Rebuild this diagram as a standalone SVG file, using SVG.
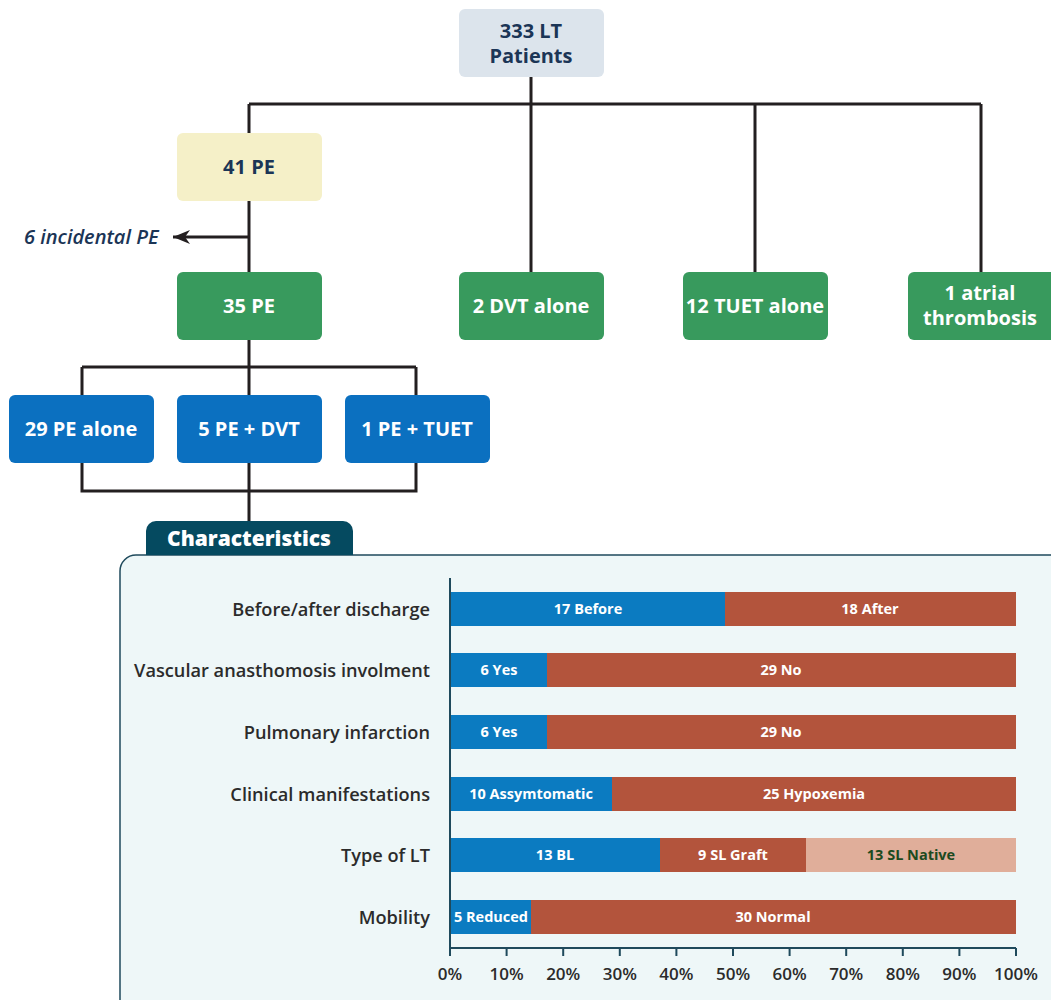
<svg xmlns="http://www.w3.org/2000/svg" width="1051" height="1000" viewBox="0 0 1051 1000">
<style>
.node text{font-family:"Open Sans","Liberation Sans",sans-serif;font-weight:700;font-size:20px;text-anchor:middle;fill:#fff}
.dark text{fill:#1b3556}
.conn{stroke:#231f20;stroke-width:3;fill:none}
.lbl{font-family:"Open Sans","Liberation Sans",sans-serif;font-size:18.2px;fill:#2b2b2b;text-anchor:end;font-weight:600}
.bt{font-family:"Open Sans","Liberation Sans",sans-serif;font-size:14.5px;font-weight:700;fill:#fff;text-anchor:middle}
.tk{font-family:"Open Sans","Liberation Sans",sans-serif;font-size:17px;fill:#2b2b2b;text-anchor:middle;font-weight:600}
.blue{fill:#0b7bc1}.red{fill:#b3543c}.pink{fill:#e0ae9a}
</style>
<defs>
<marker id="ah" markerWidth="18" markerHeight="14" refX="17" refY="7" orient="auto" markerUnits="userSpaceOnUse" viewBox="0 0 18 14">
<path d="M17,7 L0,0 L5,7 L0,14 Z" fill="#231f20"/>
</marker>
</defs>
<rect width="1051" height="1000" fill="#fff"/>
<g id="connectors">
<path class="conn" d="M531,77 V104 M249,104 H981 M249,104 V133 M531,104 V272 M755,104 V272 M981,104 V272"/>
<path class="conn" d="M249,201 V272"/>
<path class="conn" d="M249,237 H173" marker-end="url(#ah)"/>
<path class="conn" d="M249,340 V395 M82,367 H416 M82,367 V395 M416,367 V395"/>
<path class="conn" d="M82,463 V491 H416 V463 M249,463 V521"/>
</g>
<text x="24" y="244" font-family="'Open Sans','Liberation Sans',sans-serif" font-style="italic" font-weight="600" font-size="20" fill="#1b3556">6 incidental PE</text>
<g id="n-top" class="node dark"><rect x="459" y="9" width="145" height="68" rx="6" fill="#dce4ec"/><text x="531" y="38">333 LT</text><text x="531" y="63">Patients</text></g>
<g id="n-41" class="node dark"><rect x="177" y="133" width="145" height="68" rx="6" fill="#f5f0c8"/><text x="249" y="174">41 PE</text></g>
<g id="n-35" class="node"><rect x="177" y="272" width="145" height="68" rx="6" fill="#389a5d"/><text x="249" y="313">35 PE</text></g>
<g id="n-dvt" class="node"><rect x="459" y="272" width="145" height="68" rx="6" fill="#389a5d"/><text x="531" y="313">2 DVT alone</text></g>
<g id="n-tuet" class="node"><rect x="683" y="272" width="145" height="68" rx="6" fill="#389a5d"/><text x="755" y="313">12 TUET alone</text></g>
<g id="n-atrial" class="node"><rect x="908" y="272" width="148" height="68" rx="6" fill="#389a5d"/><text x="980" y="300">1 atrial</text><text x="980" y="325">thrombosis</text></g>
<g id="n-29" class="node"><rect x="9" y="395" width="145" height="68" rx="6" fill="#0b70c0"/><text x="81" y="436">29 PE alone</text></g>
<g id="n-5" class="node"><rect x="177" y="395" width="145" height="68" rx="6" fill="#0b70c0"/><text x="249" y="436">5 PE + DVT</text></g>
<g id="n-1" class="node"><rect x="345" y="395" width="145" height="68" rx="6" fill="#0b70c0"/><text x="417" y="436">1 PE + TUET</text></g>
<g id="panel">
<rect x="120" y="555" width="960" height="470" rx="16" fill="#eef7f8" stroke="#1f4a5c" stroke-width="1.5"/>
<path d="M146,555 V531 a10,10 0 0 1 10,-10 H343 a10,10 0 0 1 10,10 V555 Z" fill="#054a60"/>
<text x="249" y="546" font-family="'Open Sans','Liberation Sans',sans-serif" font-weight="800" font-size="21" fill="#fff" text-anchor="middle">Characteristics</text>
</g>
<g id="chart">
<text class="lbl" x="430" y="616">Before/after discharge</text>
<text class="lbl" x="430" y="677">Vascular anasthomosis involment</text>
<text class="lbl" x="430" y="739">Pulmonary infarction</text>
<text class="lbl" x="430" y="801">Clinical manifestations</text>
<text class="lbl" x="430" y="862">Type of LT</text>
<text class="lbl" x="430" y="924">Mobility</text>

<rect class="blue" x="450" y="592" width="275" height="34"/><rect class="red" x="725" y="592" width="291" height="34"/>
<text class="bt" x="588" y="614">17 Before</text><text class="bt" x="870" y="614">18 After</text>

<rect class="blue" x="450" y="653" width="97" height="34"/><rect class="red" x="547" y="653" width="469" height="34"/>
<text class="bt" x="499" y="675">6 Yes</text><text class="bt" x="781" y="675">29 No</text>

<rect class="blue" x="450" y="715" width="97" height="34"/><rect class="red" x="547" y="715" width="469" height="34"/>
<text class="bt" x="499" y="737">6 Yes</text><text class="bt" x="781" y="737">29 No</text>

<rect class="blue" x="450" y="777" width="162" height="34"/><rect class="red" x="612" y="777" width="404" height="34"/>
<text class="bt" x="531" y="799">10 Assymtomatic</text><text class="bt" x="814" y="799">25 Hypoxemia</text>

<rect class="blue" x="450" y="838" width="210" height="34"/><rect class="red" x="660" y="838" width="146" height="34"/><rect class="pink" x="806" y="838" width="210" height="34"/>
<text class="bt" x="555" y="860">13 BL</text><text class="bt" x="733" y="860">9 SL Graft</text><text class="bt" x="911" y="860" style="fill:#1c4a20">13 SL Native</text>

<rect class="blue" x="450" y="900" width="81" height="34"/><rect class="red" x="531" y="900" width="485" height="34"/>
<text class="bt" x="491" y="922">5 Reduced</text><text class="bt" x="773" y="922">30 Normal</text>

<path d="M450,578 V956 M450,948 H1016" stroke="#1f4a5c" stroke-width="2" fill="none"/>
<path d="M506.6,948 v8 M563.2,948 v8 M619.8,948 v8 M676.4,948 v8 M733,948 v8 M789.6,948 v8 M846.2,948 v8 M902.8,948 v8 M959.4,948 v8 M1016,948 v8" stroke="#1f4a5c" stroke-width="2"/>
<text class="tk" x="450" y="980">0%</text><text class="tk" x="506.6" y="980">10%</text><text class="tk" x="563.2" y="980">20%</text><text class="tk" x="619.8" y="980">30%</text><text class="tk" x="676.4" y="980">40%</text><text class="tk" x="733" y="980">50%</text><text class="tk" x="789.6" y="980">60%</text><text class="tk" x="846.2" y="980">70%</text><text class="tk" x="902.8" y="980">80%</text><text class="tk" x="959.4" y="980">90%</text><text class="tk" x="1016" y="980">100%</text>
</g>
</svg>
